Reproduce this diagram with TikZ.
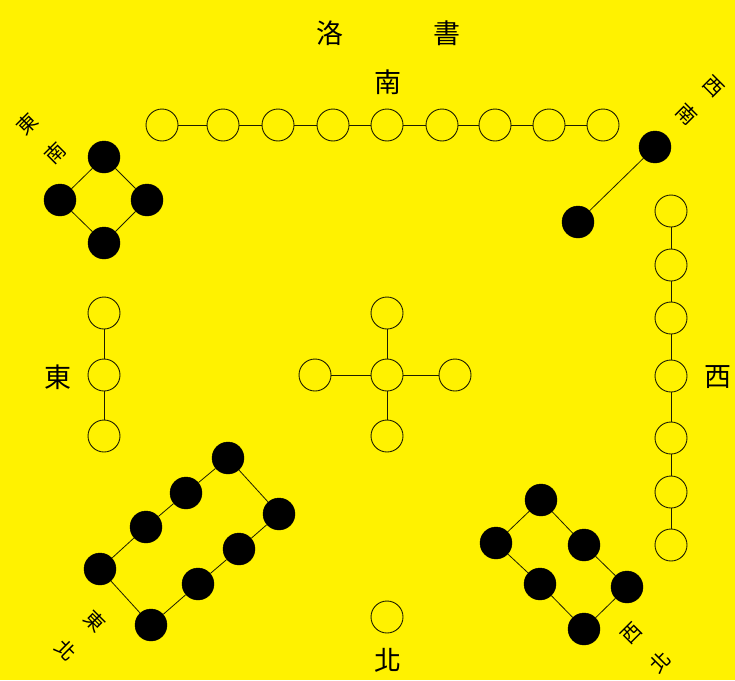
\documentclass[tikz,border=0pt]{standalone}
\usepackage{fontspec}
\newfontfamily\cjk{Noto Sans CJK TC}
\definecolor{bgyellow}{RGB}{255,242,0}
\definecolor{ink}{RGB}{30,30,0}
\begin{document}
\begin{tikzpicture}[x=1pt,y=-1pt,
  wdot/.style={circle,draw=ink,line width=0.9pt,fill=bgyellow,minimum size=32pt,inner sep=0pt},
  bdot/.style={circle,draw=black,fill=black,minimum size=32pt,inner sep=0pt},
  link/.style={draw=ink,line width=0.8pt},
  bigtxt/.style={font=\cjk\fontsize{27}{27}\selectfont,text=black,inner sep=0pt},
  cortxt/.style={font=\cjk\fontsize{20}{20}\selectfont,text=black,inner sep=0pt}]
\fill[bgyellow] (0,0) rectangle (735,680);
\useasboundingbox (0,0) rectangle (735,680);
% titles
\node[bigtxt] (t1) at (330,33) {洛};
\node[bigtxt] (t2) at (447,33) {書};
\node[bigtxt] (ls) at (388,82) {南};
\node[bigtxt] (ln) at (388,660) {北};
\node[bigtxt] (le) at (58,377) {東};
\node[bigtxt] (lw) at (718,377) {西};
% corner labels
\node[cortxt,rotate=45] (c1) at (27,124) {東};
\node[cortxt,rotate=45] (c2) at (55,153) {南};
\node[cortxt,rotate=-45] (c3) at (714,87) {西};
\node[cortxt,rotate=-45] (c4) at (687,114) {南};
\node[cortxt,rotate=-45] (c5) at (95,621) {東};
\node[cortxt,rotate=-45] (c6) at (66,650) {北};
\node[cortxt,rotate=45] (c7) at (632,633) {西};
\node[cortxt,rotate=45] (c8) at (660,662) {北};
% south: 9
\foreach \i/\x in {1/162,2/223,3/278,4/333,5/387,6/442,7/495,8/549,9/603}
  \node[wdot] (s\i) at (\x,125) {};
\foreach \i [evaluate=\i as \j using int(\i+1)] in {1,...,8}
  \draw[link] (s\i) -- (s\j);
% west: 7
\foreach \i/\y in {1/211,2/265,3/318,4/376,5/438,6/492,7/545}
  \node[wdot] (w\i) at (671,\y) {};
\foreach \i [evaluate=\i as \j using int(\i+1)] in {1,...,6}
  \draw[link] (w\i) -- (w\j);
% east: 3
\foreach \i/\y in {1/313,2/375,3/436}
  \node[wdot] (e\i) at (104,\y) {};
\draw[link] (e1) -- (e2) -- (e3);
% center: 5
\node[wdot] (m0) at (387,375) {};
\node[wdot] (m1) at (387,313) {};
\node[wdot] (m2) at (387,436) {};
\node[wdot] (m3) at (315,375) {};
\node[wdot] (m4) at (455,375) {};
\foreach \k in {1,2,3,4} \draw[link] (m0) -- (m\k);
% north: 1
\node[wdot] (n1) at (387,617) {};
% southeast (top-left): 4
\node[bdot] (a1) at (104,157) {};
\node[bdot] (a2) at (60,200) {};
\node[bdot] (a3) at (147,200) {};
\node[bdot] (a4) at (104,243) {};
\draw[link] (a1) -- (a2) -- (a4) -- (a3) -- (a1);
% southwest (top-right): 2
\node[bdot] (b1) at (655,147) {};
\node[bdot] (b2) at (578,222) {};
\draw[link] (b1) -- (b2);
% northeast (bottom-left): 8
\node[bdot] (d1) at (228,458) {};
\node[bdot] (d2) at (186,493) {};
\node[bdot] (d3) at (146,527) {};
\node[bdot] (d4) at (100,569) {};
\node[bdot] (d5) at (279,514) {};
\node[bdot] (d6) at (239,549) {};
\node[bdot] (d7) at (198,584) {};
\node[bdot] (d8) at (151,625) {};
\draw[link] (d1) -- (d2) -- (d3) -- (d4) -- (d8) -- (d7) -- (d6) -- (d5) -- (d1);
% northwest (bottom-right): 6
\node[bdot] (f1) at (541,500) {};
\node[bdot] (f2) at (496,543) {};
\node[bdot] (f3) at (584,545) {};
\node[bdot] (f4) at (540,584) {};
\node[bdot] (f5) at (627,587) {};
\node[bdot] (f6) at (584,629) {};
\draw[link] (f1) -- (f3) -- (f5) -- (f6) -- (f4) -- (f2) -- (f1);
\end{tikzpicture}
\end{document}
